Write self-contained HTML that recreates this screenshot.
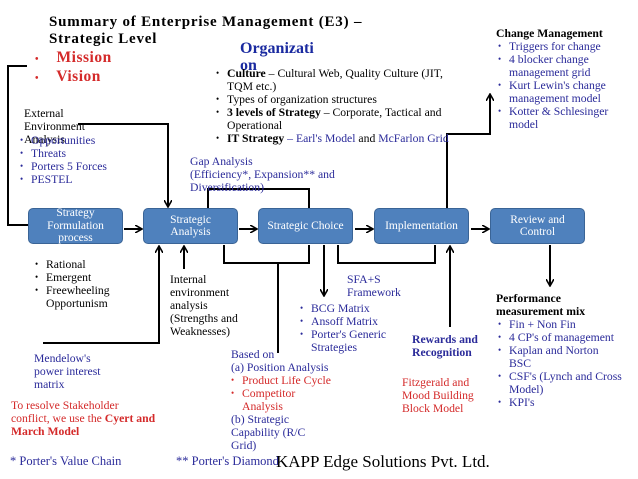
<!DOCTYPE html>
<html><head><meta charset="utf-8"><style>
body{margin:0;width:638px;height:479px;background:#fff;position:relative;overflow:hidden;font-family:"Liberation Serif",serif;font-size:11.7px;line-height:13px;color:#000}
.a{position:absolute;white-space:nowrap}
.b{color:#2b2b9a}.r{color:#d42a2a}
.box{position:absolute;top:208px;height:36px;width:95px;background:#4f81bd;border:1px solid #3a6496;border-radius:5px;color:#fff;display:flex;align-items:center;justify-content:center;text-align:center;font-size:11.5px;line-height:12.5px;box-sizing:border-box}
ul{margin:0;padding:0;list-style:none}
li{position:relative;padding-left:11px;white-space:nowrap}
li:before{content:"•";position:absolute;left:0;font-size:9px}
</style></head><body>
<svg width="638" height="479" style="position:absolute;left:0;top:0">
<defs><marker id="m" markerWidth="8" markerHeight="8" refX="6" refY="4" orient="auto" markerUnits="userSpaceOnUse"><path d="M0,0 L7,4 L0,8" fill="none" stroke="#000" stroke-width="1.6"/></marker></defs>
<g stroke="#000" stroke-width="2" fill="none">
<polyline points="27,66 8,66 8,225 28,225"/>
<polyline points="78,124 168,124 168,206" marker-end="url(#m)"/>
<line x1="124" y1="229" x2="141" y2="229" marker-end="url(#m)"/>
<line x1="239" y1="229" x2="256" y2="229" marker-end="url(#m)"/>
<line x1="355" y1="229" x2="372" y2="229" marker-end="url(#m)"/>
<line x1="471" y1="229" x2="488" y2="229" marker-end="url(#m)"/>
<polyline points="208,208 208,189 309,189 309,208"/>
<polyline points="447,208 447,134 490,134 490,95" marker-end="url(#m)"/>
<polyline points="43,343 159,343 159,247" marker-end="url(#m)"/>
<line x1="184" y1="269" x2="184" y2="247" marker-end="url(#m)"/>
<polyline points="224,245 224,263 309,263 309,245"/>
<line x1="278" y1="263" x2="278" y2="353"/>
<line x1="324" y1="245" x2="324" y2="295" marker-end="url(#m)"/>
<polyline points="338,245 338,263 435,263 435,245"/>
<line x1="450" y1="327" x2="450" y2="247" marker-end="url(#m)"/>
<line x1="550" y1="245" x2="550" y2="285" marker-end="url(#m)"/>
</g></svg>
<div class="box" style="left:28px">Strategy<br>Formulation<br>process</div>
<div class="box" style="left:143px">Strategic<br>Analysis</div>
<div class="box" style="left:258px">Strategic Choice</div>
<div class="box" style="left:374px">Implementation</div>
<div class="box" style="left:490px">Review and<br>Control</div>

<div class="a" style="left:49px;top:14px;font-weight:bold;font-size:15px;line-height:17px;letter-spacing:0.8px">Summary of Enterprise Management (E3) –<br>Strategic Level</div>
<div class="a r" style="left:35px;top:49px;font-weight:bold;font-size:15.5px;line-height:17px;letter-spacing:0.5px"><span style="font-size:10px">•</span>&nbsp;&nbsp;&nbsp; Mission<br><span style="font-size:10px">•</span>&nbsp;&nbsp;&nbsp; Vision</div>
<div class="a" style="left:240px;top:40px;font-weight:bold;font-size:16px;line-height:17px;color:#1a2aa0">Organizati<br>on</div>
<ul class="a" style="left:216px;top:67px"><li><b>Culture</b> – Cultural Web, Quality Culture (JIT,<br>TQM etc.)</li><li>Types of organization structures</li><li><b>3 levels of Strategy</b> – Corporate, Tactical and<br>Operational</li><li><b>IT Strategy</b> <span class="b">– Earl's Model</span> and <span class="b">McFarlon Grid</span></li></ul>
<div class="a" style="left:24px;top:107px">External<br>Environment<br>Analysis</div>
<ul class="a b" style="left:20px;top:134px"><li>Opportunities</li><li>Threats</li><li>Porters 5 Forces</li><li>PESTEL</li></ul>
<div class="a b" style="left:190px;top:155px">Gap Analysis<br>(Efficiency*, Expansion** and<br>Diversification)</div>
<div class="a" style="left:496px;top:27px;font-weight:bold">Change Management</div>
<ul class="a b" style="left:498px;top:40px"><li>Triggers for change</li><li>4 blocker change<br>management grid</li><li>Kurt Lewin's change<br>management model</li><li>Kotter &amp; Schlesinger<br>model</li></ul>
<ul class="a" style="left:35px;top:258px"><li>Rational</li><li>Emergent</li><li>Freewheeling<br>Opportunism</li></ul>
<div class="a" style="left:170px;top:273px">Internal<br>environment<br>analysis<br>(Strengths and<br>Weaknesses)</div>
<div class="a b" style="left:347px;top:273px">SFA+S<br>Framework</div>
<ul class="a b" style="left:300px;top:302px"><li>BCG Matrix</li><li>Ansoff Matrix</li><li>Porter's Generic<br>Strategies</li></ul>
<div class="a b" style="left:412px;top:333px;font-weight:bold">Rewards and<br>Recognition</div>
<div class="a" style="left:496px;top:292px;font-weight:bold">Performance<br>measurement mix</div>
<ul class="a b" style="left:498px;top:318px"><li>Fin + Non Fin</li><li>4 CP's of management</li><li>Kaplan and Norton<br>BSC</li><li>CSF's (Lynch and Cross<br>Model)</li><li>KPI's</li></ul>
<div class="a b" style="left:34px;top:352px">Mendelow's<br>power interest<br>matrix</div>
<div class="a r" style="left:11px;top:399px">To resolve Stakeholder<br>conflict, we use the <b>Cyert and<br>March Model</b></div>
<div class="a b" style="left:231px;top:348px">Based on<br>(a) Position Analysis</div>
<ul class="a r" style="left:231px;top:374px"><li>Product Life Cycle</li><li>Competitor<br>Analysis</li></ul>
<div class="a b" style="left:231px;top:413px">(b) Strategic<br>Capability (R/C<br>Grid)</div>
<div class="a r" style="left:402px;top:376px">Fitzgerald and<br>Mood Building<br>Block Model</div>
<div class="a b" style="left:10px;top:455px;font-size:12.5px">* Porter's Value Chain</div>
<div class="a b" style="left:176px;top:455px;font-size:12.5px">** Porter's Diamond</div>
<div class="a" style="left:276px;top:452px;font-size:17px;line-height:19px">KAPP Edge Solutions Pvt. Ltd.</div>
</body></html>
